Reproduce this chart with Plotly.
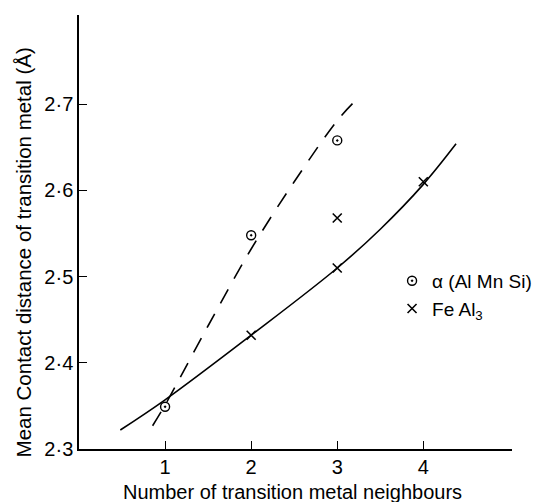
import plotly.graph_objects as go

# --- data ---
alpha_x = [1, 2, 3]
alpha_y = [2.349, 2.548, 2.658]
feal3_x = [2, 3, 3, 4]
feal3_y = [2.432, 2.51, 2.568, 2.610]

# fitted curves
alpha_curve_x = [0.855, 1.0, 1.5, 2.0, 2.5, 3.0, 3.2]
alpha_curve_y = [2.327, 2.351, 2.443, 2.532, 2.610, 2.681, 2.703]
feal3_curve_x = [0.48, 1.0, 2.0, 3.0, 3.5, 4.0, 4.38]
feal3_curve_y = [2.322, 2.357, 2.432, 2.510, 2.555, 2.607, 2.654]

x_tickvals = [1, 2, 3, 4]
x_ticktext = ["1", "2", "3", "4"]
y_tickvals = [2.3, 2.4, 2.5, 2.6, 2.7]
y_ticktext = ["2·3", "2·4", "2·5", "2·6", "2·7"]

FONT = "Liberation Sans, Arial, sans-serif"

fig = go.Figure()
fig.add_trace(go.Scatter(x=alpha_curve_x, y=alpha_curve_y, mode="lines",
                         line=dict(color="black", width=1.6, dash="16px,12px", shape="spline"),
                         showlegend=False, hoverinfo="skip"))
fig.add_trace(go.Scatter(x=feal3_curve_x, y=feal3_curve_y, mode="lines",
                         line=dict(color="black", width=1.6, shape="spline"),
                         showlegend=False, hoverinfo="skip"))
fig.add_trace(go.Scatter(x=alpha_x, y=alpha_y, mode="markers", name="α (Al Mn Si)",
                         marker=dict(symbol="circle-open-dot", size=9, color="black",
                                     line=dict(color="black", width=1.4))))
fig.add_trace(go.Scatter(x=feal3_x, y=feal3_y, mode="markers", name="Fe Al<sub>3</sub>",
                         marker=dict(symbol="x-thin-open", size=9, color="black",
                                     line=dict(color="black", width=1.6))))

# page has an 8px body margin, so the figure is sized to fit inside the window
fig.update_layout(
    width=533, height=494,
    margin=dict(l=71, r=29, t=7, b=53, autoexpand=False),
    paper_bgcolor="white", plot_bgcolor="white",
    font=dict(family=FONT, size=20, color="black"),
    legend=dict(x=0.723, y=0.431, xanchor="left", yanchor="top",
                bgcolor="rgba(0,0,0,0)", font=dict(size=19), tracegroupgap=0),
    annotations=[
        dict(text="Mean Contact distance of transition metal (Å)",
             textangle=-90, xref="paper", yref="paper",
             x=-0.128, y=0.452, xanchor="center", yanchor="middle",
             showarrow=False, font=dict(size=20.5)),
        dict(text="Number of transition metal neighbours",
             xref="paper", yref="paper",
             x=0.492, y=-0.098, xanchor="center", yanchor="middle",
             showarrow=False, font=dict(size=20)),
    ],
)
fig.update_xaxes(range=[0, 5.03], showline=True, linecolor="black", linewidth=1.5,
                 showgrid=False, zeroline=False, ticks="inside", ticklen=8, tickwidth=1.3,
                 tickcolor="black", tickvals=x_tickvals, ticktext=x_ticktext,
                 tickfont=dict(size=20), ticklabelstandoff=-1, automargin=False)
fig.update_yaxes(range=[2.3, 2.8035], showline=True, linecolor="black", linewidth=1.5,
                 showgrid=False, zeroline=False, ticks="inside", ticklen=8, tickwidth=1.3,
                 tickcolor="black", tickvals=y_tickvals, ticktext=y_ticktext,
                 tickfont=dict(size=20), ticklabelstandoff=0, automargin=False)

fig.write_html("out.html")
